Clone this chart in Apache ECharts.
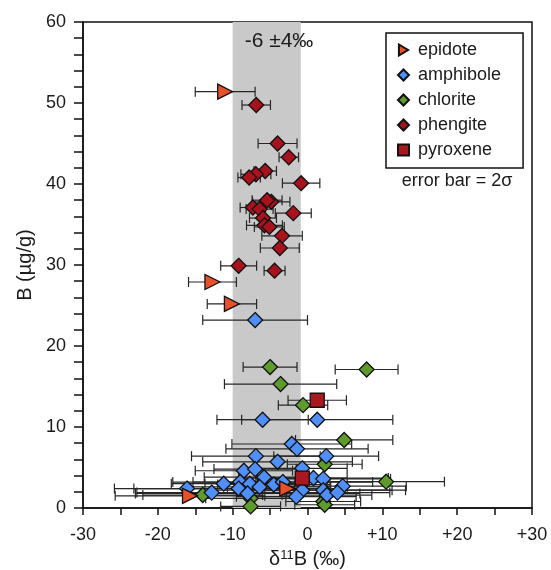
<!DOCTYPE html>
<html>
<head>
<meta charset="utf-8">
<script src="https://cdn.jsdelivr.net/npm/echarts@6/dist/echarts.min.js"></script>
<style>html,body{margin:0;padding:0;background:#fff}#c{width:551px;height:570px}</style>
</head>
<body>
<div id="c"></div>
<script>
// [delta11B (‰), B (µg/g), error half-width (2σ)]
const epidote = [
  [-11.0, 51.4, 4.0],
  [-12.7, 27.9, 3.2],
  [-10.1, 25.2, 3.3],
  [-15.7, 1.5, 10.0],
  [-2.7, 2.4, 8.0]
];
const amphibole = [
  [-7.0, 23.2, 7.0],
  [-6.0, 10.9, 6.1],
  [1.3, 10.9, 10.1],
  [-2.1, 7.9, 8.0],
  [-1.4, 7.3, 9.5],
  [-6.9, 6.4, 8.6],
  [-4.0, 5.7, 10.0],
  [2.5, 6.4, 7.0],
  [-0.7, 4.9, 6.0],
  [-8.5, 4.6, 6.5],
  [-7.0, 4.8, 5.5],
  [-5.8, 3.8, 8.0],
  [-9.0, 3.2, 9.0],
  [-7.7, 3.0, 6.0],
  [-6.4, 2.6, 9.5],
  [-11.2, 3.0, 7.0],
  [-12.8, 1.9, 10.0],
  [-16.1, 2.4, 9.7],
  [-9.2, 2.4, 14.0],
  [-8.0, 1.8, 15.0],
  [-4.5, 2.9, 7.5],
  [-3.3, 3.2, 12.0],
  [-0.7, 2.2, 12.0],
  [-1.5, 1.4, 8.0],
  [0.8, 3.7, 10.0],
  [2.1, 3.6, 9.0],
  [2.1, 2.2, 11.0],
  [2.6, 1.6, 6.0],
  [4.7, 2.7, 8.5],
  [4.0, 1.9, 7.0]
];
const chlorite = [
  [-5.0, 17.4, 3.6],
  [7.9, 17.1, 4.2],
  [-3.6, 15.3, 7.5],
  [-0.6, 12.7, 3.3],
  [4.9, 8.4, 6.5],
  [2.3, 5.4, 5.0],
  [10.5, 3.25, 7.8],
  [-14.0, 1.6, 8.0],
  [-7.6, 1.2, 6.0],
  [-7.6, 0.2, 4.0],
  [2.1, 0.8, 5.0],
  [2.3, 0.4, 4.0]
];
const phengite = [
  [-6.85, 49.75, 1.9],
  [-4.0, 45.0, 2.6],
  [-2.5, 43.3, 1.3],
  [-5.65, 41.6, 1.5],
  [-6.9, 41.2, 2.0],
  [-7.8, 40.8, 1.5],
  [-0.85, 40.1, 2.5],
  [-4.85, 37.8, 2.5],
  [-5.4, 38.0, 2.0],
  [-7.3, 37.1, 1.7],
  [-6.4, 36.9, 1.8],
  [-1.9, 36.4, 2.4],
  [-5.95, 35.8, 1.8],
  [-5.75, 34.9, 2.4],
  [-5.1, 34.7, 2.0],
  [-3.4, 33.6, 2.7],
  [-3.7, 32.1, 2.6],
  [-9.2, 29.9, 2.4],
  [-4.4, 29.3, 1.4]
];
const pyroxene = [
  [1.3, 13.3, 3.9],
  [-0.7, 3.7, 6.0]
];
const band = [-10, -0.9];
const xTicks = [-30, -20, -10, 0, 10, 20, 30];
const yTicks = [0, 10, 20, 30, 40, 50, 60];

const FONT = 'Liberation Sans, Arial, sans-serif';
const TXT = '#1a1a1a';
const allPts = [].concat(epidote, amphibole, chlorite, phengite, pyroxene);

function errRender(params, api) {
  const x = api.value(0), y = api.value(1), e = api.value(2);
  const a = api.coord([x - e, y]), b = api.coord([x + e, y]);
  const h = 5;
  const st = {stroke: '#262626', lineWidth: 1.2};
  return {type: 'group', children: [
    {type: 'line', shape: {x1: a[0], y1: a[1], x2: b[0], y2: b[1]}, style: st},
    {type: 'line', shape: {x1: a[0], y1: a[1] - h, x2: a[0], y2: a[1] + h}, style: st},
    {type: 'line', shape: {x1: b[0], y1: b[1] - h, x2: b[0], y2: b[1] + h}, style: st}
  ]};
}

function sc(name, data, symbol, size, color, z, rot) {
  return {
    name: name, type: 'scatter', data: data.map(d => [d[0], d[1]]),
    symbol: symbol, symbolSize: size, symbolRotate: rot || 0, z: z,
    itemStyle: {color: color, borderColor: '#111', borderWidth: 1.3, opacity: 1},
    emphasis: {disabled: true}, animation: false
  };
}

const triRight = 'path://M0,0L10,6L0,12Z';

const chart = echarts.init(document.getElementById('c'), null, {renderer: 'canvas'});
chart.setOption({
  animation: false,
  backgroundColor: '#fff',
  grid: {left: 83, right: 19, top: 22, bottom: 62, containLabel: false, outerBoundsMode: 'none',
    show: true, borderColor: '#111', borderWidth: 1.5, backgroundColor: 'transparent'},
  xAxis: {
    type: 'value', min: -30, max: 30, interval: 5,
    name: '{a|δ}{s|11}{a|B (‰)}', nameLocation: 'middle', nameGap: 39,
    nameTextStyle: {rich: {a: {fontSize: 20, fontFamily: FONT, color: TXT}, s: {fontSize: 13, fontFamily: FONT, color: TXT, verticalAlign: 'top', padding: [0, 0, 9, 0]}}},
    axisLine: {onZero: false, lineStyle: {color: '#111', width: 1.5}},
    axisTick: {length: 7, lineStyle: {color: '#111', width: 1.5}},
    splitLine: {show: false},
    axisLabel: {fontSize: 18, fontFamily: FONT, color: TXT, margin: 18,
      formatter: v => xTicks.indexOf(v) < 0 ? '' : (v > 0 ? '+' + v : String(v))}
  },
  yAxis: {
    type: 'value', min: 0, max: 60, interval: 2,
    name: 'B (µg/g)', nameLocation: 'middle', nameGap: 46,
    nameTextStyle: {fontSize: 20, fontFamily: FONT, color: TXT},
    axisLine: {onZero: false, lineStyle: {color: '#111', width: 1.5}},
    axisTick: {length: 9, lineStyle: {color: '#111', width: 1.5}},
    splitLine: {show: false},
    axisLabel: {fontSize: 18, fontFamily: FONT, color: TXT, margin: 17,
      formatter: v => yTicks.indexOf(v) < 0 ? '' : String(v)}
  },
  legend: {
    left: 386, top: 33, orient: 'vertical',
    data: [
      {name: 'epidote', icon: triRight},
      {name: 'amphibole'}, {name: 'chlorite'}, {name: 'phengite'}, {name: 'pyroxene'}
    ],
    itemWidth: 11, itemHeight: 11, itemGap: 7,
    padding: [8, 22, 9, 11],
    borderColor: '#111', borderWidth: 1.5, backgroundColor: '#fff',
    textStyle: {fontSize: 18, lineHeight: 18, fontFamily: FONT, color: TXT, padding: [0, 0, 0, 4]},
    selectedMode: false
  },
  graphic: [
    {type: 'text', z: 10, style: {text: '-6 ±4‰', fontSize: 21, fontFamily: FONT, fill: TXT, x: 279, y: 41, align: 'center', verticalAlign: 'middle'}},
    {type: 'text', z: 10, style: {text: 'error bar = 2σ', fontSize: 18, fontFamily: FONT, fill: TXT, x: 457, y: 181, align: 'center', verticalAlign: 'middle'}}
  ],
  series: [
    {type: 'scatter', data: [], z: 0, silent: true,
      markArea: {silent: true, itemStyle: {color: '#c9c9c9'},
        data: [[{xAxis: band[0], yAxis: 0}, {xAxis: band[1], yAxis: 60}]]}},
    {type: 'custom', renderItem: errRender, data: allPts, z: 1, silent: true, encode: {x: 0, y: 1}},
    sc('phengite', phengite, 'diamond', 15, '#a8121c', 3),
    sc('chlorite', chlorite, 'diamond', 15, '#5e9a2c', 3),
    sc('amphibole', amphibole, 'diamond', 15, '#4f8ff7', 4),
    sc('pyroxene', pyroxene, 'rect', 14, '#a8181e', 5),
    sc('epidote', epidote, 'triangle', 15, '#e8502a', 6, -90)
  ]
});
</script>
</body>
</html>
